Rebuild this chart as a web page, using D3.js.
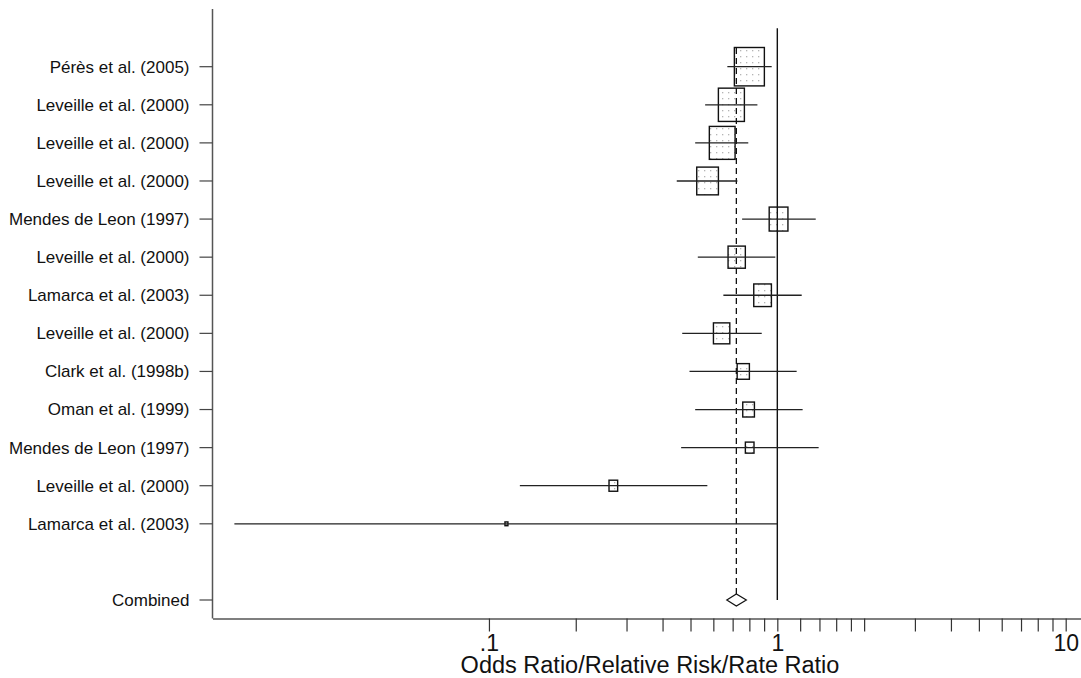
<html>

<head>
  <meta charset="utf-8">
  <script src="https://d3js.org/d3.v7.min.js"></script>

  <style>
    body {
      margin: 0;
      background: white;
    }

    text {
      font-family: "Liberation Sans", Arial, sans-serif;
      fill: #111;
    }
  </style>
</head>

<body>
  <svg id="forest" height="678" width="1081"></svg>

  <script>

    // study labels, top to bottom
    const studies = ["Pérès et al. (2005)", "Leveille et al. (2000)", "Leveille et al. (2000)",
      "Leveille et al. (2000)", "Mendes de Leon (1997)", "Leveille et al. (2000)",
      "Lamarca et al. (2003)", "Leveille et al. (2000)", "Clark et al. (1998b)",
      "Oman et al. (1999)", "Mendes de Leon (1997)", "Leveille et al. (2000)",
      "Lamarca et al. (2003)"];
    // point estimates and 95% CI
    const estimates = [0.80, 0.693, 0.644, 0.573, 1.01, 0.723, 0.889, 0.641, 0.762, 0.795, 0.802, 0.270, 0.115];
    const lower = [0.671, 0.562, 0.519, 0.448, 0.755, 0.530, 0.650, 0.468, 0.496, 0.519, 0.464, 0.128, 0.0131];
    const upper = [0.956, 0.853, 0.793, 0.727, 1.359, 0.984, 1.215, 0.883, 1.167, 1.224, 1.391, 0.572, 1.00];
    // study weights (%), used for box size
    const weights = [20.5, 15.4, 15.1, 10.7, 8.0, 6.8, 7.1, 6.1, 3.4, 3.1, 1.7, 1.7, 0.2];
    // pooled
    const combined = { label: "Combined", est: 0.721, lo: 0.668, hi: 0.781 };
    // x axis ticks
    const tickVals = [0.1, 0.2, 0.3, 0.4, 0.5, 0.6, 0.7, 0.8, 0.9, 1, 1.2, 1.4, 1.6, 1.8, 2, 3, 4, 5, 6, 7, 8, 9, 10];
    const tickLabels = { 0.1: ".1", 1: "1", 10: "10" };

    const svg = d3.select('svg#forest');
    const width = +svg.attr('width');
    const height = +svg.attr('height');
    const margins = { top: 9, right: 0, bottom: 60, left: 212.5 };
    const axisY = height - margins.bottom + 0.5;

    const rows = studies.map((s, i) => ({
      label: s, row: i, est: estimates[i], lo: lower[i], hi: upper[i], w: weights[i]
    }));
    const combinedRow = 14;

    const xScale = d3.scaleLog().domain([0.011, 11.3]).range([margins.left, width]);
    const yScale = d3.scaleLinear().domain([0, 14]).range([66.7, 600]);
    const boxScale = d3.scaleSqrt().domain([0, d3.max(weights)]).range([0, 30]);
    const aspect = 1.28;

    // dotted fill for the boxes
    const pattern = svg.append('defs').append('pattern')
      .attr('id', 'dots')
      .attr('width', 6)
      .attr('height', 6)
      .attr('patternUnits', 'userSpaceOnUse');
    pattern.append('rect').attr('width', 6).attr('height', 6).attr('fill', 'white');
    pattern.append('rect').attr('x', 2).attr('y', 2).attr('width', 1.3).attr('height', 1.3).attr('fill', '#b5b5b5');

    let annotations = svg.append("g").attr("id", "annotations");
    let chartArea = svg.append("g").attr("id", "marks");

    // left axis with study labels
    annotations.append("line")
      .attr("x1", margins.left).attr("x2", margins.left)
      .attr("y1", margins.top).attr("y2", axisY)
      .attr("stroke", "#555").attr("stroke-width", 1.5);

    const allRows = rows.map(d => ({ label: d.label, row: d.row }))
      .concat([{ label: combined.label, row: combinedRow }]);

    annotations.selectAll("line.ytick")
      .data(allRows)
      .join("line")
      .attr("class", "ytick")
      .attr("x1", margins.left - 13).attr("x2", margins.left)
      .attr("y1", d => yScale(d.row)).attr("y2", d => yScale(d.row))
      .attr("stroke", "#444").attr("stroke-width", 1.2);

    annotations.selectAll("text.ylabel")
      .data(allRows)
      .join("text")
      .attr("class", "ylabel")
      .attr("x", margins.left - 23)
      .attr("y", d => yScale(d.row))
      .attr("dy", "0.35em")
      .attr("text-anchor", "end")
      .style("font-size", "17px")
      .text(d => d.label);

    // bottom axis
    let bottomAxis = d3.axisBottom(xScale)
      .tickValues(tickVals)
      .tickSize(13)
      .tickPadding(3)
      .tickSizeOuter(0)
      .tickFormat(d => tickLabels[d] || "");

    let xAxisG = annotations.append("g")
      .attr("class", "x axis")
      .attr("transform", `translate(0,${axisY})`)
      .call(bottomAxis);
    xAxisG.select(".domain").attr("stroke", "#555").attr("stroke-width", 1.5);
    xAxisG.selectAll(".tick line").attr("stroke", "#333").attr("stroke-width", 1.2);
    xAxisG.selectAll(".tick text")
      .style("font-family", "'Liberation Sans', Arial, sans-serif")
      .style("font-size", "23px")
      .attr("fill", "#111");

    annotations.append("text")
      .attr("class", "x label")
      .attr("text-anchor", "middle")
      .attr("x", 650)
      .attr("y", height - 5)
      .style("font-size", "23.5px")
      .text("Odds Ratio/Relative Risk/Rate Ratio");

    // boxes
    chartArea.selectAll("rect.box")
      .data(rows)
      .join("rect")
      .attr("class", "box")
      .attr("x", d => xScale(d.est) - boxScale(d.w) / 2)
      .attr("y", d => yScale(d.row) - boxScale(d.w) * aspect / 2)
      .attr("width", d => Math.max(boxScale(d.w), 2))
      .attr("height", d => Math.max(boxScale(d.w) * aspect, 2))
      .attr("fill", "url(#dots)")
      .attr("stroke", "#111")
      .attr("stroke-width", 1.4);

    // no-effect line at 1
    chartArea.append("line")
      .attr("x1", xScale(1)).attr("x2", xScale(1))
      .attr("y1", 28.3).attr("y2", yScale(combinedRow))
      .attr("stroke", "#111").attr("stroke-width", 1.4);

    // pooled estimate dashed line
    chartArea.append("line")
      .attr("x1", xScale(combined.est)).attr("x2", xScale(combined.est))
      .attr("y1", 48).attr("y2", yScale(combinedRow) - 6)
      .attr("stroke", "#111").attr("stroke-width", 1.3)
      .attr("stroke-dasharray", "6,4");

    // confidence intervals
    chartArea.selectAll("line.ci")
      .data(rows)
      .join("line")
      .attr("class", "ci")
      .attr("x1", d => xScale(d.lo)).attr("x2", d => xScale(d.hi))
      .attr("y1", d => yScale(d.row)).attr("y2", d => yScale(d.row))
      .attr("stroke", "#222").attr("stroke-width", 1.3);

    // combined diamond
    const cy = yScale(combinedRow);
    chartArea.append("path")
      .attr("d", d3.line()([
        [xScale(combined.lo), cy], [xScale(combined.est), cy - 6],
        [xScale(combined.hi), cy], [xScale(combined.est), cy + 6]
      ]) + "Z")
      .attr("fill", "white")
      .attr("stroke", "#111")
      .attr("stroke-width", 1.2);

  </script>
</body>

</html>
